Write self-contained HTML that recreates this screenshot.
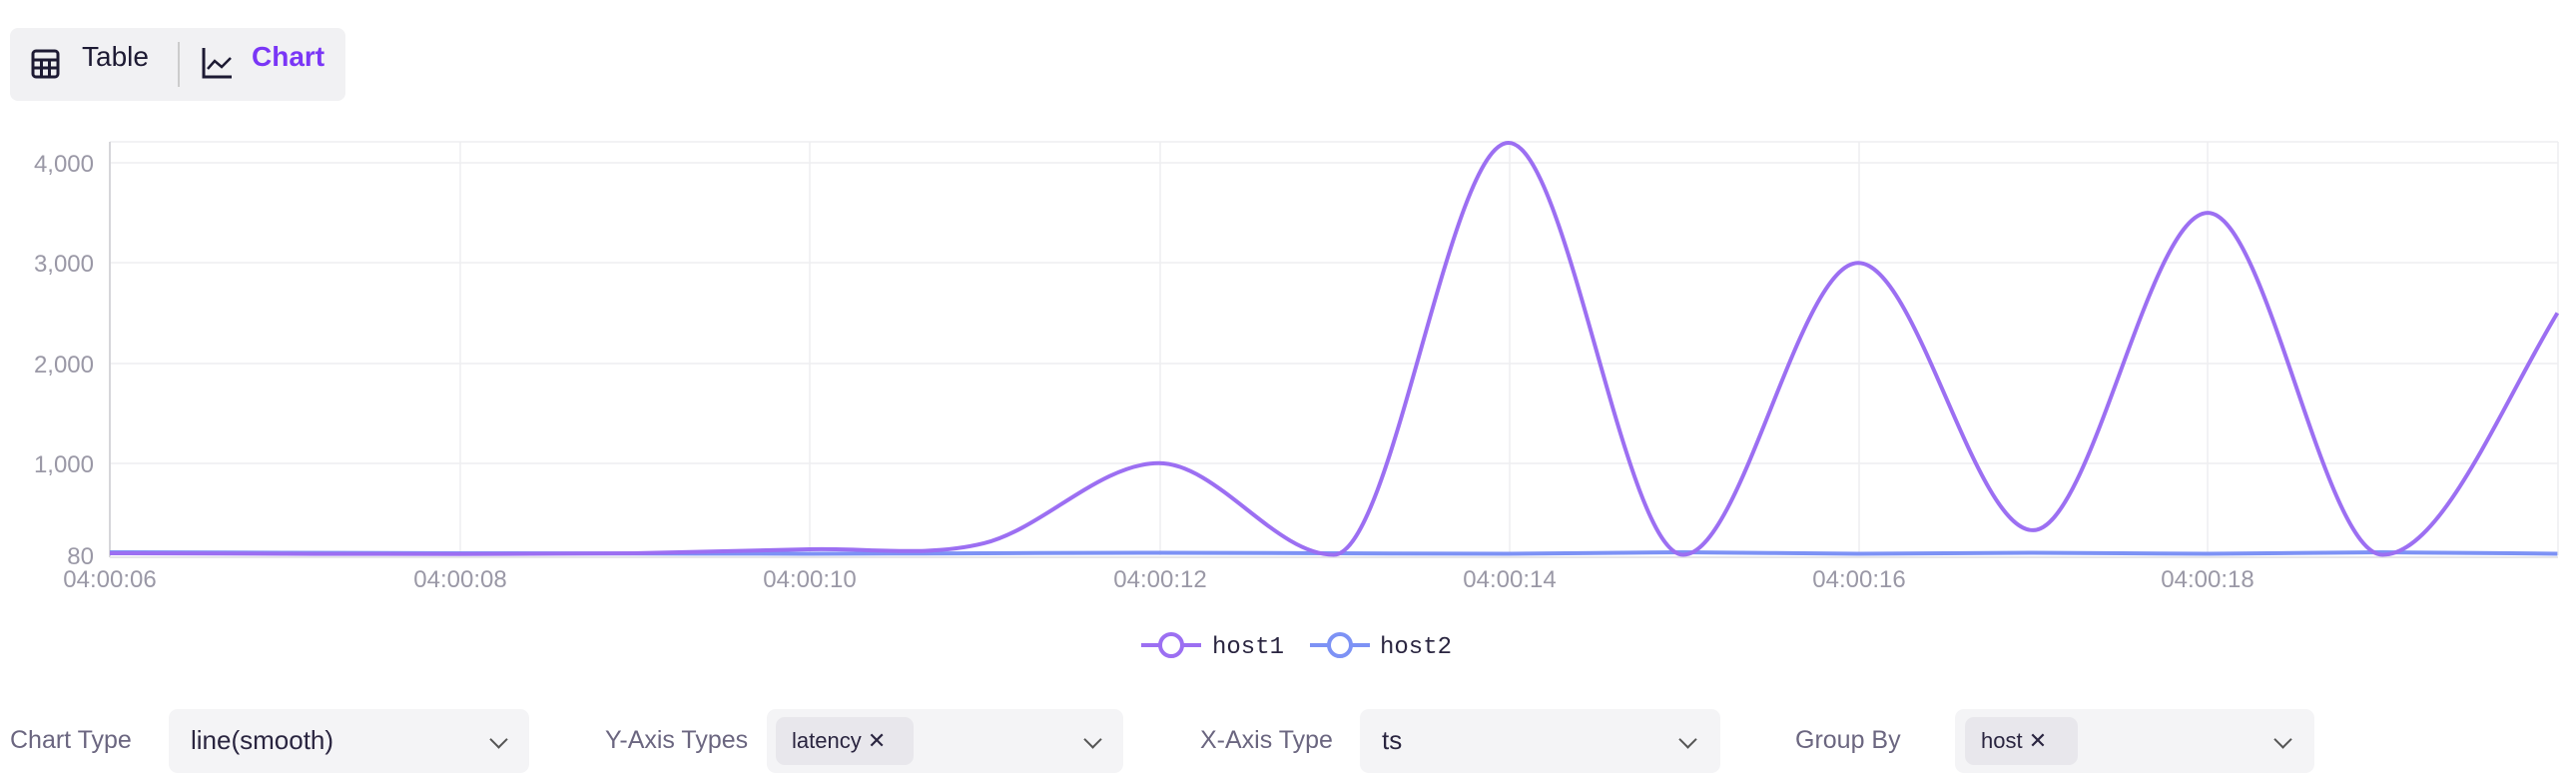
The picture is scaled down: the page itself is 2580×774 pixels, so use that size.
<!DOCTYPE html>
<html><head><meta charset="utf-8"><style>
body{margin:0;width:2580px;height:774px;background:#fff;font-family:"Liberation Sans",sans-serif;position:relative;overflow:hidden}
.abs{position:absolute}
.sel{position:absolute;top:710px;height:64px;background:#f4f4f6;border-radius:9px}
.lab{position:absolute;top:727px;font-size:25px;color:#6b6680}
.chip{position:absolute;top:8px;height:48px;background:#e8e7ec;border-radius:9px;font-size:22px;color:#2a2540;line-height:48px;padding-left:16px}
.val{position:absolute;left:22px;top:16px;font-size:26px;color:#2a2540}
.chev{position:absolute;top:24px;width:11px;height:11px;border-right:2px solid #555;border-bottom:2px solid #555;transform:rotate(45deg)}
</style></head><body>
<div class="abs" style="left:10px;top:28px;width:336px;height:73px;background:#f1f1f3;border-radius:8px"></div>
<svg class="abs" style="left:31px;top:47px" width="30" height="34" viewBox="0 0 30 34"><rect x="2" y="4" width="25" height="26" rx="3" fill="none" stroke="#1d1a33" stroke-width="3"/><path d="M2 13H27M2 21H27M10.5 13V30M18.5 13V30" stroke="#1d1a33" stroke-width="3"/></svg>
<div class="abs" style="left:82px;top:41px;font-size:28px;color:#1d1a33">Table</div>
<div class="abs" style="left:178px;top:42px;width:2px;height:45px;background:#ccc"></div>
<svg class="abs" style="left:202px;top:47px" width="32" height="32"><path d="M2 1V30H30" fill="none" stroke="#1d1a33" stroke-width="3"/><path d="M6 22L13 14L20 20L29 11" fill="none" stroke="#1d1a33" stroke-width="2.5"/></svg>
<div class="abs" style="left:252px;top:41px;font-size:28px;font-weight:bold;color:#7a36f6">Chart</div>

<svg class="abs" style="left:0;top:0" width="2580" height="700" id="ch">
<g stroke="#eeeef0" stroke-width="1.5">
<line x1="110" y1="142" x2="2562" y2="142"/>
<line x1="110" y1="163" x2="2562" y2="163"/>
<line x1="110" y1="263" x2="2562" y2="263"/>
<line x1="110" y1="364" x2="2562" y2="364"/>
<line x1="110" y1="464" x2="2562" y2="464"/>
<line x1="461" y1="142" x2="461" y2="556"/><line x1="811" y1="142" x2="811" y2="556"/><line x1="1162" y1="142" x2="1162" y2="556"/><line x1="1512" y1="142" x2="1512" y2="556"/><line x1="1862" y1="142" x2="1862" y2="556"/><line x1="2211" y1="142" x2="2211" y2="556"/><line x1="2562" y1="142" x2="2562" y2="556"/>
</g>
<line x1="110" y1="142" x2="110" y2="558" stroke="#d6d6da" stroke-width="2"/>
<line x1="110" y1="558" x2="2562" y2="558" stroke="#e6e6ea" stroke-width="2"/>
<g font-size="24" fill="#9a98a6" text-anchor="end" font-family="Liberation Sans">
<text x="94" y="172">4,000</text><text x="94" y="272">3,000</text><text x="94" y="373">2,000</text><text x="94" y="473">1,000</text><text x="94" y="565">80</text>
</g>
<g font-size="24" fill="#9a98a6" text-anchor="middle" font-family="Liberation Sans">
<text x="110" y="588">04:00:06</text><text x="461" y="588">04:00:08</text><text x="811" y="588">04:00:10</text><text x="1162" y="588">04:00:12</text><text x="1512" y="588">04:00:14</text><text x="1862" y="588">04:00:16</text><text x="2211" y="588">04:00:18</text>
</g>
<path id="h2" fill="none" stroke="#7d92f5" stroke-width="4"/>
<path id="h1" fill="none" stroke="#9c6ff2" stroke-width="4"/>
<line x1="1143" y1="646" x2="1203" y2="646" stroke="#9c6ff2" stroke-width="4"/><circle cx="1173" cy="646" r="11" fill="#fff" stroke="#9c6ff2" stroke-width="4"/>
<text x="1214" y="654" font-size="24" fill="#2a2540" font-family="Liberation Mono">host1</text>
<line x1="1312" y1="646" x2="1372" y2="646" stroke="#7d92f5" stroke-width="4"/><circle cx="1342" cy="646" r="11" fill="#fff" stroke="#7d92f5" stroke-width="4"/>
<text x="1382" y="654" font-size="24" fill="#2a2540" font-family="Liberation Mono">host2</text>
</svg>

<div class="lab" style="left:10px">Chart Type</div>
<div class="sel" style="left:169px;width:361px"><div class="val">line(smooth)</div><div class="chev" style="left:324px"></div></div>
<div class="lab" style="left:606px">Y-Axis Types</div>
<div class="sel" style="left:768px;width:357px"><div class="chip" style="left:9px;width:122px">latency ✕</div><div class="chev" style="left:320px"></div></div>
<div class="lab" style="left:1202px">X-Axis Type</div>
<div class="sel" style="left:1362px;width:361px"><div class="val">ts</div><div class="chev" style="left:322px"></div></div>
<div class="lab" style="left:1798px">Group By</div>
<div class="sel" style="left:1958px;width:360px"><div class="chip" style="left:10px;width:97px">host ✕</div><div class="chev" style="left:322px"></div></div>

<script>
function Y(v){return 556-(v-80)*393/3920}
function X(t){return 110+(t-6)*175.1}
function path(vals){
 var p=vals.map(function(v,i){return [X(6+i),Y(v)]});
 var n=p.length;
 var d="M"+p[0][0]+" "+p[0][1];
 for(var i=0;i<n-1;i++){
  var a=p[i],b=p[i+1];
  var p0=p[i-1]||a,p3=p[i+2]||b;
  var t1=(p[i-1]?(b[1]-p0[1])/2:0), t2=(p[i+2]?(p3[1]-a[1])/2:(b[1]-a[1])*1.2);
  var c1=[a[0]+(b[0]-a[0])/3, a[1]+t1/3];
  var c2=[b[0]-(b[0]-a[0])/3, b[1]-t2/3];
  if(isExt(p,i)) c1[1]=a[1];
  if(isExt(p,i+1)) c2[1]=b[1];
  d+=" C"+c1[0]+" "+c1[1]+" "+c2[0]+" "+c2[1]+" "+b[0]+" "+b[1];
 }
 return d;
}
function isExt(p,i){if(!p[i-1]||!p[i+1])return false;return (p[i][1]-p[i-1][1])*(p[i+1][1]-p[i][1])<=0}
document.getElementById('h1').setAttribute('d',path([100,95,92,100,140,200,1000,85,4200,85,3000,330,3500,85,2500]));
document.getElementById('h2').setAttribute('d',path([110,105,100,98,95,100,105,100,95,110,95,105,95,110,95]));
</script>
</body></html>
